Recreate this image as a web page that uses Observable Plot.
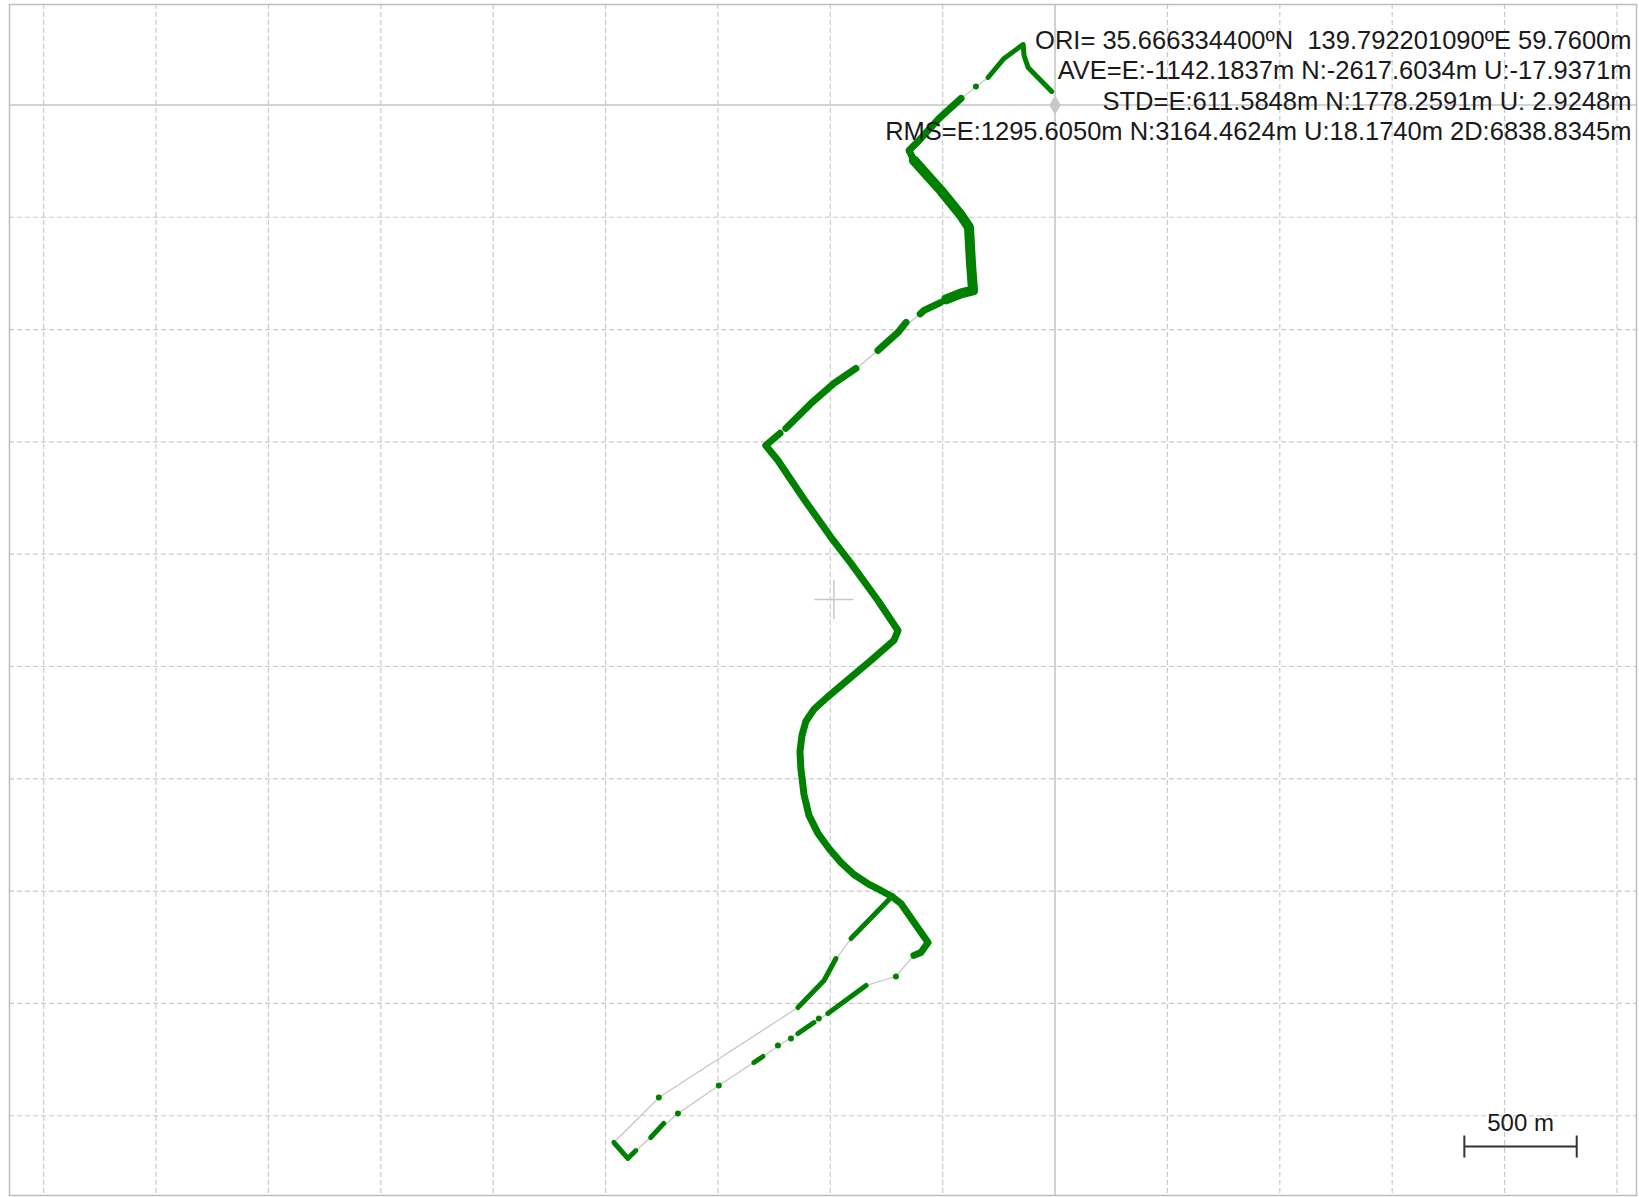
<!DOCTYPE html>
<html>
<head>
<meta charset="utf-8">
<script src="https://cdn.jsdelivr.net/npm/d3@7"></script>
<script src="https://cdn.jsdelivr.net/npm/@observablehq/plot@0.6"></script>
<style>
  html, body { margin: 0; padding: 0; background: #fff; overflow: hidden; }
  svg text { white-space: pre; }
</style>
</head>
<body>
<div id="chart"></div>
<script>
// ---- Data (metres east / north of the origin) ----
const trackE = [-15, -120, -138, -142, -227, -298, -418, -516, -605, -650, -628, -508, -418, -383, -374, -365, -418, -494, -583, -699, -788, -895, -984, -1086, -1206, -1287, -1233, -1113, -997, -908, -788, -699, -717, -819, -1015, -1073, -1109, -1126, -1135, -1131, -1117, -1095, -1055, -1006, -953, -895, -828, -775, -726, -686, -565, -597, -628, -708, -841, -1011, -1162, -1300, -1496, -1678, -1799, -1865, -1901, -1963, -1763, -1144, -1028, -962, -908, -743, -726];
const trackN = [60, 167, 220, 269, 207, 122, 29, -60, -158, -203, -247, -381, -492, -545, -706, -826, -839, -870, -915, -1013, -1093, -1182, -1240, -1329, -1449, -1516, -1583, -1761, -1925, -2041, -2206, -2340, -2384, -2473, -2638, -2691, -2745, -2807, -2878, -2954, -3070, -3163, -3243, -3310, -3372, -3426, -3470, -3497, -3524, -3555, -3729, -3773, -3786, -3880, -3920, -4045, -4143, -4236, -4365, -4490, -4597, -4655, -4690, -4619, -4419, -4018, -3898, -3786, -3711, -3542, -3524];

// green (fixed-solution) stretches: segment ids, their vertex counts, and the vertices in order
const greenSegIds = ["A", "B", "C", "D", "E", "F", "G", "H", "I", "J", "K", "L", "M", "N", "O"];
const greenSegLen = [6, 5, 8, 3, 3, 4, 25, 5, 2, 2, 2, 2, 3, 3, 3];
const greenE = [
  -15, -120, -138, -142, -227, -298,
  -418, -516, -605, -650, -628,
  -628, -508, -418, -383, -374, -365, -418, -485,
  -510, -583, -600,
  -663, -699, -788,
  -886, -984, -1086, -1198,
  -1224, -1287, -1233, -1113, -997, -908, -788, -699, -717, -819, -1015, -1073, -1109, -1126, -1135, -1131, -1117, -1095, -1055, -1006, -953, -895, -828, -775, -726,
  -726, -686, -565, -597, -628,
  -841, -1011,
  -1073, -1144,
  -1300, -1340,
  -1741, -1799,
  -1865, -1901, -1963,
  -1144, -1028, -975,
  -908, -743, -726];
const greenN = [
  60, 167, 220, 269, 207, 122,
  29, -60, -158, -203, -247,
  -247, -381, -492, -545, -706, -826, -839, -866,
  -880, -915, -930,
  -968, -1013, -1093,
  -1173, -1240, -1329, -1440,
  -1462, -1516, -1583, -1761, -1925, -2041, -2206, -2340, -2384, -2473, -2638, -2691, -2745, -2807, -2878, -2954, -3070, -3163, -3243, -3310, -3372, -3426, -3470, -3497, -3524,
  -3524, -3555, -3729, -3773, -3786,
  -3920, -4045,
  -4085, -4134,
  -4236, -4263,
  -4534, -4597,
  -4655, -4690, -4619,
  -4018, -3898, -3800,
  -3711, -3542, -3524];
const thickSegs = ["C"];
const thinSegs = ["A", "I", "J", "K", "L", "M", "N", "O"];

// isolated green epochs
const dotE = [-352, -708, -1051, -1175, -1233, -1496, -1678, -1763];
const dotN = [82, -3880, -4067, -4156, -4187, -4365, -4490, -4419];

// grid (500 m spacing)
const gridE = [-4500, -4000, -3500, -3000, -2500, -2000, -1500, -1000, -500, 500, 1000, 1500, 2000, 2500];
const gridN = [-4500, -4000, -3500, -3000, -2500, -2000, -1500, -1000, -500];

// plot centre marker and scale bar
const centreE = -984, centreN = -2202;
const scaleE0 = 1821, scaleLen = 500, scaleN = -4637;
const scaleLabel = "500 m";

const statsLines = [
  "ORI= 35.666334400ºN  139.792201090ºE 59.7600m",
  "AVE=E:-1142.1837m N:-2617.6034m U:-17.9371m",
  "STD=E:611.5848m N:1778.2591m U: 2.9248m",
  "RMS=E:1295.6050m N:3164.4624m U:18.1740m 2D:6838.8345m"
];

// ---- Build tables ----
const greenSeg = greenSegIds.flatMap((id, i) => Array(greenSegLen[i]).fill(id));
const track = trackE.map((e, i) => ({E: e, N: trackN[i]}));
const green = greenE.map((e, i) => ({E: e, N: greenN[i], seg: greenSeg[i]}));
const dots = dotE.map((e, i) => ({E: e, N: dotN[i]}));
const cross = [
  {x1: centreE - 87, x2: centreE + 87, y1: centreN, y2: centreN},
  {x1: centreE, x2: centreE, y1: centreN - 87, y2: centreN + 87}
];
const bar = [
  {x1: scaleE0, x2: scaleE0 + scaleLen, y1: scaleN, y2: scaleN},
  {x1: scaleE0, x2: scaleE0, y1: scaleN - 49, y2: scaleN + 49},
  {x1: scaleE0 + scaleLen, x2: scaleE0 + scaleLen, y1: scaleN - 49, y2: scaleN + 49}
];

const GREEN = "#008000";
const FONT = "Liberation Sans, Arial, sans-serif";

const chart = Plot.plot({
  width: 1639,
  height: 1197,
  marginLeft: 9,
  marginRight: 3,
  marginTop: 4,
  marginBottom: 2,
  x: {domain: [-4652, 2587], axis: null},
  y: {domain: [-4855, 447], axis: null},
  style: {background: "#fff"},
  marks: [
    Plot.ruleX(gridE, {stroke: "#c8c8c8", strokeDasharray: "5,3", strokeWidth: 1.2}),
    Plot.ruleY(gridN, {stroke: "#c8c8c8", strokeDasharray: "5,3", strokeWidth: 1.2}),
    Plot.ruleX([0], {stroke: "#c4c4c4", strokeWidth: 1.5}),
    Plot.ruleY([0], {stroke: "#c4c4c4", strokeWidth: 1.5}),
    Plot.link(cross, {x1: "x1", x2: "x2", y1: "y1", y2: "y2", stroke: "#c8c8c8", strokeWidth: 1.5}),
    Plot.line(track, {x: "E", y: "N", stroke: "#c4c4c4", strokeWidth: 1.2}),
    Plot.line(green.filter(d => !thickSegs.includes(d.seg) && !thinSegs.includes(d.seg)),
      {x: "E", y: "N", z: "seg", stroke: GREEN, strokeWidth: 7, strokeLinejoin: "round", strokeLinecap: "round"}),
    Plot.line(green.filter(d => thinSegs.includes(d.seg)),
      {x: "E", y: "N", z: "seg", stroke: GREEN, strokeWidth: 5, strokeLinejoin: "round", strokeLinecap: "round"}),
    Plot.line(green.filter(d => thickSegs.includes(d.seg)),
      {x: "E", y: "N", z: "seg", stroke: GREEN, strokeWidth: 10, strokeLinejoin: "round", strokeLinecap: "round"}),
    Plot.dot(dots, {x: "E", y: "N", r: 3, fill: GREEN}),
    Plot.dot([{E: 0, N: 0}], {x: "E", y: "N", symbol: "diamond", r: 6, fill: "#c8c8c8"}),
    Plot.link(bar, {x1: "x1", x2: "x2", y1: "y1", y2: "y2", stroke: "#333", strokeWidth: 2}),
    Plot.text([scaleLabel], {x: () => scaleE0 + scaleLen / 2, y: () => scaleN, text: d => d, dy: -23,
      lineAnchor: "middle", fontSize: 24, fontFamily: FONT, fill: "#1a1a1a"}),
    Plot.text([statsLines.join("\n")], {frameAnchor: "top-right", text: d => d, lineAnchor: "top",
      lineHeight: 1.19, textAnchor: "end", dx: -5, dy: 23, fontSize: 25.5, fontFamily: FONT, fill: "#1a1a1a"}),
    Plot.frame({stroke: "#bdbdbd", strokeWidth: 1.5})
  ]
});
document.getElementById("chart").appendChild(chart);
</script>
</body>
</html>
